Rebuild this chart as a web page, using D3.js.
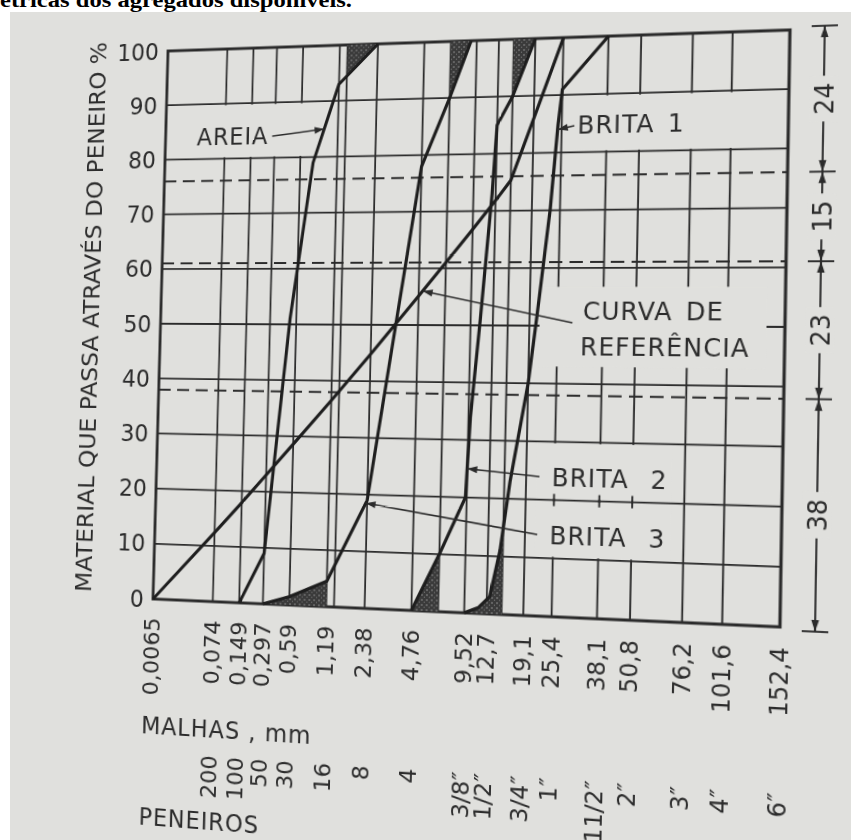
<!DOCTYPE html>
<html>
<head>
<meta charset="utf-8">
<script src="https://cdn.jsdelivr.net/npm/d3@7"></script>
<style>
  html, body { margin: 0; padding: 0; background: #fff; }
  #page { position: relative; width: 851px; height: 840px; overflow: hidden; background: #fff; }
  #paper { position: absolute; left: 10px; top: 12px; width: 841px; height: 828px; background: #e0e0dd; }
  #top { position: absolute; left: 0; top: 0; }
  #chart { position: absolute; left: 0; top: 0; transform-origin: 0 0; overflow: visible; }
  text { font-family: "DejaVu Sans", sans-serif; fill: #2c2c2c; }
</style>
</head>
<body>
<div id="page">
  <div id="paper"></div>
  <svg id="top" width="851" height="14"></svg>
  <svg id="chart" width="851" height="880"></svg>
</div>
<script>
// sieve openings (mm) and their labels
const sieves = [0.0065, 0.074, 0.149, 0.297, 0.59, 1.19, 2.38, 4.76, 9.52, 12.7, 19.1, 25.4, 38.1, 50.8, 76.2, 101.6, 152.4];
const mmLabels = ["0,0065", "0,074", "0,149", "0,297", "0,59", "1,19", "2,38", "4,76", "9,52", "12,7", "19,1", "25,4", "38,1", "50,8", "76,2", "101,6", "152,4"];
const sieveNames = ["", "200", "100", "50", "30", "16", "8", "4", "3/8″", "1/2″", "3/4″", "1″", "11/2″", "2″", "3″", "4″", "6″"];
const extraLines = [1.38, 7.1, 15.3];
const pctTicks = [0, 10, 20, 30, 40, 50, 60, 70, 80, 90, 100];

// grading curves: [opening mm, % passing]
const areia = [[0.149, 0], [0.297, 9], [0.52, 51], [0.8, 79], [1.19, 93], [2.38, 100]];
const brita3 = [[0.297, 0], [0.59, 1.5], [1.19, 4.5], [2.38, 19], [4.76, 78], [7.1, 90], [9, 100]];
const brita2 = [[4.76, 0], [7.1, 10], [9.4, 20], [9.8, 34], [10.9, 51], [12.2, 73], [12.7, 85], [15.3, 90], [19.1, 100]];
const brita1 = [[9.52, 0], [11.5, 1], [13.2, 3], [14.8, 11], [16.3, 23], [19.1, 40], [20.8, 52], [23.2, 70], [24.6, 85], [25.4, 91], [38.1, 100]];
const referencia = [[0.0065, 0], [0.074, 12.4], [0.149, 17.9], [0.297, 23], [0.59, 28.6], [1.19, 36.5], [2.38, 44.8],
  [4.76, 55.1], [7.1, 61], [9.52, 66.8], [12.7, 71.8], [15.3, 75.3], [19.1, 86], [25.4, 100]];

// proportions (dashed levels) and the parts they give
const levels = [100, 76, 61, 38, 0];
const parts = [24, 15, 23, 38];

// ---- layout (flat drawing, then warped like the photographed page) ----
const L = 160, R = 785, T = 40, B = 612, W = R - L;
const xStops = [0.0065, 0.074, 0.149, 0.297, 0.59, 1.19, 1.38, 2.38, 4.76, 7.1, 9.52, 12.7, 15.3, 19.1, 25.4, 38.1, 50.8, 76.2, 101.6, 152.4];
const xFrac = [0, 0.1030, 0.1479, 0.1880, 0.2322, 0.2938, 0.3066, 0.3570, 0.4331, 0.4761, 0.5178, 0.5533, 0.5770, 0.6112, 0.6554, 0.7256, 0.7761, 0.8549, 0.9148, 1];
const PAPER = "#e0e0dd", INK = "#2b2b2b";

const x = d3.scaleLinear().domain(xStops).range(xFrac.map(f => L + f * W));
const y = d3.scaleLinear().domain([0, 100]).range([B, T]);

// page title strip (not part of the photo)
d3.select("#top").append("text")
  .attr("x", 0).attr("y", 7)
  .attr("textLength", 352).attr("lengthAdjust", "spacingAndGlyphs")
  .style("font-family", "'Liberation Serif', serif").style("font-weight", "bold")
  .style("font-size", "22px").style("fill", "#000")
  .text("étricas dos agregados disponíveis.");

const svg = d3.select("#chart");
const defs = svg.append("defs");
const pat = defs.append("pattern").attr("id", "stip").attr("width", 5).attr("height", 5)
  .attr("patternUnits", "userSpaceOnUse");
pat.append("rect").attr("width", 5).attr("height", 5).attr("fill", "#3a3a3a");
pat.append("circle").attr("cx", 1).attr("cy", 1).attr("r", 0.8).attr("fill", "#999");
pat.append("circle").attr("cx", 3.5).attr("cy", 3.2).attr("r", 0.6).attr("fill", "#777");

// grid
const grid = svg.append("g").attr("stroke", INK).attr("stroke-width", 1.8);
grid.selectAll(".h").data(pctTicks.slice(1, -1)).join("line")
  .attr("x1", L).attr("x2", R).attr("y1", d => y(d)).attr("y2", d => y(d));
grid.selectAll(".v").data(xStops.slice(1, -1)).join("line")
  .attr("x1", d => x(d)).attr("x2", d => x(d)).attr("y1", T).attr("y2", B);

// gaps in the grid behind the labels
const gaps = [
  [L + 2, x(1.19) - 2.5, 90, 80],
  [x(25.4) + 2.5, R - 2.5, 90, 80],
  [552, R - 17, 57, 42.7],
  [552, 682, 30, 20],
  [552, 682, 20, 10]
];
svg.append("g").selectAll("rect").data(gaps).join("rect")
  .attr("x", d => d[0]).attr("width", d => d[1] - d[0])
  .attr("y", d => y(d[2]) + 1.5).attr("height", d => y(d[3]) - y(d[2]) - 3)
  .attr("fill", PAPER);
svg.append("g").attr("stroke", INK).attr("stroke-width", 1.8)
  .selectAll("line").data([25.4, 38.1, 50.8]).join("line")
  .attr("x1", d => x(d)).attr("x2", d => x(d)).attr("y1", y(20) - 6).attr("y2", y(20) + 6);

// dashed proportion levels
svg.append("g").attr("stroke", INK).attr("stroke-width", 2).attr("stroke-dasharray", "13,7")
  .selectAll("line").data(levels.slice(1, -1)).join("line")
  .attr("x1", L).attr("x2", R).attr("y1", d => y(d)).attr("y2", d => y(d));

// frame
svg.append("rect").attr("x", L).attr("y", T).attr("width", W).attr("height", B - T)
  .attr("fill", "none").attr("stroke", INK).attr("stroke-width", 3);

// shaded overlap zones
const shades = [
  [areia, 1.38, 2.38, "top"], [brita3, 0.297, 1.19, "bottom"], [brita3, 7.1, 9.52, "top"],
  [brita2, 4.76, 7.1, "bottom"], [brita2, 15.3, 19.1, "top"], [brita1, 9.52, 15.3, "bottom"]
];
shades.forEach((s, i) => {
  defs.append("clipPath").attr("id", "cl" + i).append("rect")
    .attr("x", x(s[1])).attr("width", x(s[2]) - x(s[1])).attr("y", T).attr("height", B - T);
  const area = d3.area().x(d => x(d[0])).y0(s[3] === "top" ? y(100) : y(0)).y1(d => y(d[1]));
  svg.append("path").attr("d", area(s[0])).attr("fill", "url(#stip)").attr("clip-path", `url(#cl${i})`);
});

// curves
const line = d3.line().x(d => x(d[0])).y(d => y(d[1]));
svg.append("g").attr("fill", "none").attr("stroke", "#1e1e1e").attr("stroke-width", 3.2)
  .attr("stroke-linejoin", "round")
  .selectAll("path").data([areia, brita3, brita2, brita1, referencia]).join("path")
  .attr("d", line);

// point on a curve at a given % passing
function onCurve(data, p) {
  for (let i = 1; i < data.length; i++) {
    const a = data[i - 1], b = data[i];
    if (p >= a[1] && p <= b[1]) {
      const t = (p - a[1]) / (b[1] - a[1]);
      return [x(a[0]) + t * (x(b[0]) - x(a[0])), y(p)];
    }
  }
}
function leader(from, to) {
  svg.append("line").attr("x1", from[0]).attr("y1", from[1]).attr("x2", to[0]).attr("y2", to[1])
    .attr("stroke", INK).attr("stroke-width", 1.6);
  const dx = to[0] - from[0], dy = to[1] - from[1], len = Math.hypot(dx, dy);
  const ux = dx / len, uy = dy / len, bx = to[0] - ux * 10, by = to[1] - uy * 10;
  svg.append("path").attr("fill", INK)
    .attr("d", `M${to[0]},${to[1]}L${bx - uy * 3.5},${by + ux * 3.5}L${bx + uy * 3.5},${by - ux * 3.5}Z`);
}
function label(txt, px, py, ws) {
  return svg.append("text").attr("x", px).attr("y", py).style("font-size", "24px")
    .style("letter-spacing", "1px").style("word-spacing", (ws || 0) + "px").text(txt);
}

const ar = label("AREIA", 194, 140);
leader([194 + ar.node().getComputedTextLength() + 4, 132], onCurve(areia, 85));
label("BRITA 1", 585, 136, 4);
leader([582, 128], onCurve(brita1, 84));
label("CURVA DE", 594, 320, 4);
label("REFERÊNCIA", 592, 355);
leader([584, 323], onCurve(referencia, 56));
label("BRITA 2", 567, 484, 12);
leader([555, 475], onCurve(brita2, 25));
label("BRITA 3", 566, 541, 12);
leader([554, 532], onCurve(brita3, 18.5));

// axes text
svg.append("g").selectAll("text").data(pctTicks).join("text")
  .attr("x", L - 10).attr("y", d => y(d)).attr("dy", "0.36em").attr("text-anchor", "end")
  .style("font-size", "24px").text(d => d);
svg.append("text").attr("transform", `translate(92,318) rotate(-90)`).attr("text-anchor", "middle")
  .attr("textLength", 580).attr("lengthAdjust", "spacingAndGlyphs").style("font-size", "24px")
  .text("MATERIAL QUE PASSA ATRAVÉS DO PENEIRO %");
svg.append("g").selectAll("text").data(sieves).join("text")
  .attr("transform", d => `translate(${x(d)},${B + 19}) rotate(-90)`)
  .attr("text-anchor", "end").attr("dy", "0.36em").style("font-size", "23px")
  .text((d, i) => mmLabels[i]);
svg.append("g").selectAll("text").data(sieves).join("text")
  .attr("transform", d => `translate(${x(d)},769) rotate(-90)`)
  .attr("text-anchor", "end").attr("dy", "0.36em").style("font-size", "23px")
  .text((d, i) => sieveNames[i]);
label("MALHAS , mm", 151, 751);
label("PENEIROS", 151, 845);

// dimension line on the right
const DX = R + 32;
const tickY = p => p === 100 ? y(100) - 3 : p === 0 ? y(0) + 3 : y(p);
const dim = svg.append("g");
dim.selectAll("line.t").data(levels).join("line")
  .attr("x1", DX - 12).attr("x2", DX + 12).attr("y1", tickY).attr("y2", tickY)
  .attr("stroke", INK).attr("stroke-width", 1.8);
parts.forEach((v, i) => {
  const y1 = tickY(levels[i]), y2 = tickY(levels[i + 1]), ym = (y1 + y2) / 2;
  dim.append("line").attr("x1", DX).attr("x2", DX).attr("y1", y1).attr("y2", y2)
    .attr("stroke", INK).attr("stroke-width", 1.8);
  [[y1, 1], [y2, -1]].forEach(([yy, s]) => {
    dim.append("path").attr("fill", INK)
      .attr("d", `M${DX},${yy}L${DX - 3.5},${yy + s * 11}L${DX + 3.5},${yy + s * 11}Z`);
  });
  dim.append("rect").attr("x", DX - 13).attr("width", 26).attr("y", ym - 22).attr("height", 44).attr("fill", PAPER);
  dim.append("text").attr("transform", `translate(${DX},${ym}) rotate(-90)`)
    .attr("text-anchor", "middle").attr("dy", "0.36em").style("font-size", "24px").text(v);
});

// warp the flat drawing onto the photographed page (four corner correspondences)
function homography(src, dst) {
  const A = [];
  for (let i = 0; i < 4; i++) {
    const [sx, sy] = src[i], [X, Y] = dst[i];
    A.push([sx, sy, 1, 0, 0, 0, -sx * X, -sy * X, X]);
    A.push([0, 0, 0, sx, sy, 1, -sx * Y, -sy * Y, Y]);
  }
  for (let c = 0; c < 8; c++) {
    let p = c;
    for (let r = c + 1; r < 8; r++) if (Math.abs(A[r][c]) > Math.abs(A[p][c])) p = r;
    [A[c], A[p]] = [A[p], A[c]];
    for (let r = 0; r < 8; r++) {
      if (r === c) continue;
      const f = A[r][c] / A[c][c];
      for (let k = c; k < 9; k++) A[r][k] -= f * A[c][k];
    }
  }
  return A.map((row, i) => row[8] / row[i]);
}
const [a, b, c, d, e, f, g, h] = homography(
  [[L, T], [R, T], [R, B], [L, B]],
  [[168, 51], [790, 30], [780, 627], [153, 599]]
);
svg.style("transform", `matrix3d(${a},${d},0,${g},${b},${e},0,${h},0,0,1,0,${c},${f},0,1)`);
</script>
</body>
</html>
